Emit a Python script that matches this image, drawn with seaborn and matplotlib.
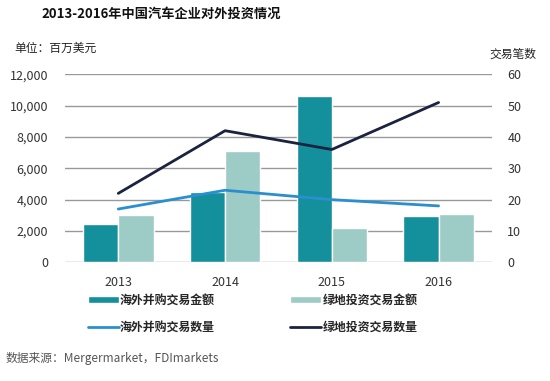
import numpy as np
import pandas as pd
import matplotlib
matplotlib.use("Agg")
import matplotlib.pyplot as plt
import seaborn as sns
from matplotlib.patches import Patch
from matplotlib.lines import Line2D

# dati
anni = ["2013", "2014", "2015", "2016"]
ma_importo = [2450, 4500, 10600, 2950]       # 海外并购交易金额 (百万美元)
green_importo = [3000, 7100, 2200, 3100]     # 绿地投资交易金额
ma_numero = [17, 23, 20, 18]                 # 海外并购交易数量
green_numero = [22, 42, 36, 51]              # 绿地投资交易数量

serie_barre = ["海外并购交易金额", "绿地投资交易金额"]
serie_linee = ["海外并购交易数量", "绿地投资交易数量"]

c_ma = "#13909c"
c_green = "#9dcbc6"
c_line_ma = "#2a8fd0"
c_line_green = "#1c2340"

sns.set_theme(style="white")
plt.rcParams["font.family"] = ["Noto Sans CJK SC", "DejaVu Sans"]

df = pd.DataFrame({
    "anno": anni * 2,
    "valore": ma_importo + green_importo,
    "serie": [serie_barre[0]] * 4 + [serie_barre[1]] * 4,
})

fig = plt.figure(figsize=(5.5, 3.81), dpi=100)
ax = fig.add_axes([0.118, 0.3115, 0.7765, 0.4935])

sns.barplot(data=df, x="anno", y="valore", hue="serie", ax=ax,
            palette=[c_ma, c_green], width=0.66, saturation=1,
            legend=False)

ax.set_ylim(0, 12000)
ax.set_yticks(np.arange(0, 12001, 2000))
ax.set_yticklabels([f"{v:,}" for v in range(0, 12001, 2000)])
ax.set_xlim(-0.5, 3.5)
ax.grid(axis="y", color="#999999", linewidth=1)
ax.set_axisbelow(True)
for s in ax.spines.values():
    s.set_visible(False)
ax.set_xlabel("")
ax.set_ylabel("")
ax.tick_params(axis="both", length=0, labelsize=9, colors="#333333")
ax.tick_params(axis="y", pad=12)
ax.tick_params(axis="x", pad=10)

ax2 = ax.twinx()
x = np.arange(len(anni))
sns.lineplot(x=x, y=ma_numero, ax=ax2, color=c_line_ma, linewidth=2)
sns.lineplot(x=x, y=green_numero, ax=ax2, color=c_line_green, linewidth=2)
ax2.set_ylim(0, 60)
ax2.set_yticks(np.arange(0, 61, 10))
ax2.set_xlim(-0.5, 3.5)
for s in ax2.spines.values():
    s.set_visible(False)
ax2.tick_params(axis="y", length=0, labelsize=9, colors="#333333", pad=11)
ax2.grid(False)

# titoli e note
fig.text(0.075, 0.965, "2013-2016年中国汽车企业对外投资情况", fontsize=9.5,
         fontweight="bold", color="#111111", va="center")
fig.text(0.027, 0.872, "单位：百万美元", fontsize=8.5, color="#222222", va="center")
fig.text(0.975, 0.857, "交易笔数", fontsize=8.5, color="#222222", va="center", ha="right")
fig.text(0.01, 0.06, "数据来源：Mergermarket，FDImarkets", fontsize=8.5,
         color="#555555", va="center")

handles = [
    Patch(facecolor=c_ma, label=serie_barre[0]),
    Line2D([0], [0], color=c_line_ma, lw=2, label=serie_linee[0]),
    Patch(facecolor=c_green, label=serie_barre[1]),
    Line2D([0], [0], color=c_line_green, lw=2, label=serie_linee[1]),
]
leg = fig.legend(handles=handles, ncol=2, loc="upper left",
                 bbox_to_anchor=(0.14, 0.258), frameon=False,
                 handlelength=2.6, handleheight=0.55, handletextpad=0.1,
                 columnspacing=6.3, labelspacing=1.2,
                 prop={"family": ["Noto Sans CJK SC", "DejaVu Sans"],
                       "size": 8.6, "weight": "bold"})

fig.savefig("out.png", dpi=100)
